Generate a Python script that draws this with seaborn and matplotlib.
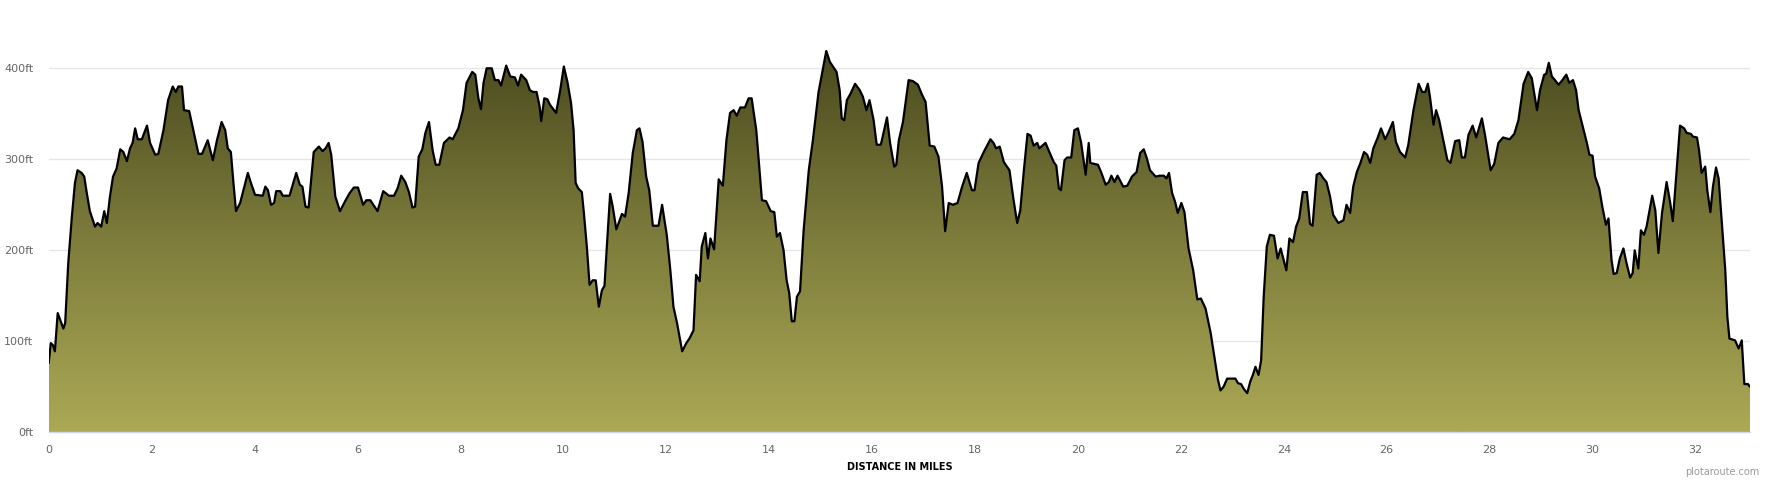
import numpy as np
import pandas as pd
import matplotlib.pyplot as plt
import seaborn as sns
from matplotlib.colors import LinearSegmentedColormap
from matplotlib.patches import Polygon

# 거리(마일)
miles = [
    0.00, 0.04, 0.08, 0.12, 0.175, 0.22, 0.285, 0.32, 0.38, 0.45, 0.51, 0.56, 0.64, 0.69, 0.74, 0.80,
    0.90, 0.95, 1.02, 1.08, 1.13, 1.19, 1.25, 1.32, 1.39, 1.45, 1.52, 1.58, 1.63, 1.68, 1.73, 1.81,
    1.91, 1.97, 2.07, 2.13, 2.23, 2.32, 2.41, 2.47, 2.52, 2.59, 2.63, 2.73, 2.81, 2.91, 2.98, 3.09,
    3.19, 3.27, 3.36, 3.43, 3.48, 3.54, 3.59, 3.64, 3.72, 3.87, 3.93, 4.01, 4.16, 4.21, 4.26, 4.32,
    4.38, 4.42, 4.50, 4.55, 4.68, 4.81, 4.88, 4.93, 4.99, 5.05, 5.15, 5.25, 5.32, 5.38, 5.44, 5.49,
    5.57, 5.66, 5.77, 5.85, 5.93, 6.01, 6.11, 6.17, 6.25, 6.39, 6.50, 6.61, 6.71, 6.78, 6.85, 6.93,
    7.00, 7.07, 7.12, 7.19, 7.26, 7.32, 7.39, 7.46, 7.52, 7.59, 7.68, 7.79,
    7.85, 7.96, 8.05, 8.12, 8.23, 8.29, 8.35, 8.40, 8.45, 8.51, 8.61, 8.67, 8.74, 8.79, 8.89, 8.97,
    9.06, 9.12, 9.18, 9.28, 9.35, 9.41, 9.48, 9.54, 9.57, 9.63, 9.69, 9.74, 9.86, 9.94, 10.01, 10.08,
    10.15, 10.20, 10.24, 10.29, 10.36, 10.40, 10.46, 10.51, 10.57, 10.63, 10.69, 10.75, 10.80, 10.85,
    10.91, 10.96, 11.03, 11.14, 11.20, 11.27, 11.35, 11.43, 11.48, 11.54, 11.61, 11.67, 11.74, 11.85,
    11.92, 12.01, 12.08, 12.14, 12.21, 12.31, 12.39, 12.45, 12.53, 12.58, 12.65, 12.69, 12.76, 12.81,
    12.86, 12.93, 13.02, 13.10, 13.17, 13.24, 13.31, 13.37, 13.44, 13.53, 13.60, 13.66, 13.75, 13.86,
    13.94, 14.03, 14.10, 14.15, 14.21, 14.28, 14.34, 14.39, 14.44, 14.49, 14.54, 14.60, 14.67, 14.77,
    14.85, 14.96, 15.04, 15.11, 15.18, 15.31, 15.37, 15.41, 15.46, 15.51, 15.58, 15.67, 15.76, 15.82,
    15.89, 15.95, 16.03, 16.09, 16.17,
    16.29, 16.35, 16.43, 16.47, 16.52, 16.60, 16.71, 16.79, 16.89, 16.97, 17.04, 17.12, 17.21, 17.29,
    17.36, 17.42, 17.49, 17.57, 17.66, 17.75, 17.84, 17.94, 17.99, 18.07, 18.17, 18.30, 18.36, 18.41,
    18.48, 18.56, 18.67, 18.75, 18.82, 18.88, 18.95, 19.02, 19.08, 19.14, 19.21, 19.25, 19.37, 19.43,
    19.53, 19.58, 19.63, 19.67, 19.74, 19.79, 19.87, 19.93, 20.00, 20.06, 20.15, 20.21, 20.24, 20.39,
    20.45, 20.54, 20.60, 20.65, 20.71, 20.77, 20.88, 20.96, 21.05, 21.14, 21.21, 21.28, 21.34, 21.40,
    21.51, 21.59, 21.67, 21.72, 21.77, 21.83, 21.89, 21.94, 22.01, 22.07, 22.15, 22.24, 22.32, 22.39,
    22.48, 22.58, 22.64, 22.72, 22.77, 22.83, 22.90, 23.06, 23.11, 23.17, 23.22, 23.29, 23.35, 23.40,
    23.45, 23.51, 23.56, 23.61, 23.67, 23.73, 23.81, 23.88, 23.94, 24.05, 24.11, 24.18, 24.24, 24.30,
    24.37, 24.45, 24.51, 24.56, 24.64,
    24.70, 24.77, 24.83, 24.90, 24.96, 25.06, 25.16, 25.22, 25.29, 25.35, 25.42, 25.49, 25.56, 25.62,
    25.68, 25.74, 25.82, 25.89, 25.97, 26.03, 26.12, 26.18, 26.26, 26.36, 26.42, 26.52, 26.62, 26.69,
    26.75, 26.80, 26.84, 26.91, 26.96, 27.02, 27.11, 27.18, 27.24, 27.33, 27.41, 27.46, 27.52, 27.59,
    27.67, 27.74, 27.85, 27.91, 28.02, 28.09, 28.17, 28.26, 28.32, 28.39, 28.48, 28.56, 28.66, 28.75,
    28.82, 28.92, 28.98, 29.06, 29.10, 29.15, 29.21, 29.27, 29.34, 29.40, 29.49, 29.55, 29.62, 29.68,
    29.73, 29.82, 29.89, 29.94, 30.00, 30.05, 30.13, 30.19, 30.26, 30.31, 30.37, 30.41, 30.47, 30.53,
    30.60, 30.66, 30.73, 30.78, 30.82, 30.89, 30.94, 31.00, 31.05, 31.16, 31.22, 31.28, 31.35, 31.44,
    31.51, 31.56, 31.63, 31.70, 31.78, 31.83, 31.91, 31.95, 32.03, 32.07, 32.12, 32.19, 32.23, 32.29,
    32.34, 32.40, 32.45, 32.51, 32.58, 32.62, 32.66, 32.77, 32.84, 32.90, 32.95, 33.02, 33.06,
]

# 고도(ft)
elev_ft = [
    76, 98, 96, 89, 131, 124, 114, 120, 186, 237, 274, 288, 285, 281, 263, 243,
    226, 230, 226, 243, 230, 259, 281, 290, 311, 308, 298, 312, 318, 334, 322, 322,
    337, 318, 305, 306, 332, 365, 380, 374, 380, 380, 354, 353, 332, 306, 306, 321,
    299, 321, 341, 332, 312, 308, 274, 243, 252, 285, 274, 261, 260, 270, 266, 250,
    252, 265, 265, 260, 260, 285, 272, 270, 248, 247, 308, 314, 309, 312, 318, 305,
    259, 243, 255, 263, 269, 269, 250, 255, 255, 243, 265, 260, 260, 268, 282, 275,
    264, 247, 248, 303, 311, 329, 341, 310, 294, 294, 318, 324,
    322, 334, 354, 384, 396, 393, 367, 355, 384, 400, 400, 387, 387, 381, 403, 391,
    390, 381, 393, 387, 376, 374, 374, 358, 342, 367, 366, 360, 351, 376, 402, 385,
    362, 332, 274, 268, 264, 241, 202, 162, 167, 167, 138, 156, 161, 208,
    262, 248, 223, 240, 237, 263, 307, 332, 334, 319, 281, 266, 227, 227,
    250, 217, 178, 138, 120, 89, 98, 103, 112, 173, 166, 204, 219, 191,
    213, 201, 278, 271, 321, 351, 354, 348, 357, 357, 367, 367, 332, 255,
    254, 243, 242, 215, 219, 200, 167, 153, 122, 122, 149, 155, 222, 288,
    321, 374, 398, 419, 407, 396, 376, 345, 343, 365, 372, 383, 376, 369,
    354, 365, 343, 316, 316,
    346, 318, 292, 294, 321, 341, 387, 386, 382, 371, 363, 315, 314, 303,
    270, 221, 252, 250, 252, 270, 285, 266, 266, 296, 308, 322, 318, 312,
    314, 297, 288, 255, 230, 244, 288, 328, 326, 315, 318, 312, 318, 310,
    297, 293, 268, 266, 299, 302, 302, 332, 334, 319, 283, 318, 296, 294,
    286, 272, 275, 282, 275, 282, 270, 271, 281, 286, 307, 311, 301, 288,
    281, 282, 282, 279, 285, 263, 253, 241, 252, 242, 202, 178, 146, 147,
    136, 109, 87, 58, 46, 50, 59, 59, 54, 53, 48, 43, 56, 63,
    72, 63, 79, 149, 204, 217, 216, 191, 202, 178, 213, 209, 226, 235,
    264, 264, 229, 227, 283,
    285, 279, 275, 259, 239, 230, 233, 250, 241, 270, 286, 296, 308, 305,
    296, 312, 323, 334, 322, 329, 341, 319, 308, 302, 316, 354, 383, 374,
    374, 383, 369, 338, 354, 343, 318, 299, 296, 320, 321, 302, 302, 327,
    337, 324, 345, 327, 288, 295, 318, 324, 323, 322, 328, 343, 383, 396,
    389, 354, 376, 393, 394, 406, 391, 387, 382, 386, 393, 384, 387, 376,
    354, 334, 318, 305, 304, 281, 268, 248, 228, 235, 189, 174, 175, 191,
    202, 186, 170, 175, 200, 180, 222, 217, 226, 260, 244, 197, 241, 275,
    252, 232, 285, 337, 334, 329, 328, 325, 324, 310, 285, 292, 266, 242,
    270, 291, 279, 233, 178, 127, 103, 101, 92, 101, 53, 53, 50,
]

x_ticks = list(range(0, 34, 2))
y_ticks = [0, 100, 200, 300, 400]
y_labels = ['0ft', '100ft', '200ft', '300ft', '400ft']

df = pd.DataFrame({'miles': miles, 'elev_ft': elev_ft})

sns.set_style('white')
plt.rcParams['font.family'] = ['DejaVu Sans']

W, H = 1770, 480
fig = plt.figure(figsize=(W / 100, H / 100), dpi=100)
x0, x1, y0 = 48.7, 1750, 432.3
ax = fig.add_axes([x0 / W, (H - y0) / H, (x1 - x0) / W, y0 / H])

x_max = df['miles'].max()
y_max = df['elev_ft'].max()

# 그라데이션 채우기 (위: 진한 올리브, 아래: 밝은 올리브)
cmap = LinearSegmentedColormap.from_list('olive', ['#aba955', '#7e7d3c', '#4a491e'])
grad = np.linspace(0, 1, 256).reshape(-1, 1)
im = ax.imshow(grad, extent=[0, x_max, 0, y_max], origin='lower', aspect='auto',
               cmap=cmap, zorder=2)
verts = [(df['miles'].iloc[0], 0)] + list(zip(df['miles'], df['elev_ft'])) + [(x_max, 0)]
poly = Polygon(verts, closed=True, facecolor='none', edgecolor='none')
ax.add_patch(poly)
im.set_clip_path(poly)

sns.lineplot(data=df, x='miles', y='elev_ft', color='black', linewidth=1.6, ax=ax, zorder=3,
             solid_joinstyle='round', solid_capstyle='round')

ax.set_xlim(0, x_max)
ax.set_ylim(0, y0 / 0.91)
ax.set_xticks(x_ticks)
ax.set_yticks(y_ticks)
ax.set_yticklabels(y_labels)
ax.grid(axis='y', color='#e6e6e6', linewidth=1)
ax.set_axisbelow(True)
ax.set_xlabel('')
ax.set_ylabel('')

for s in ['top', 'right', 'left']:
    ax.spines[s].set_visible(False)
ax.spines['bottom'].set_color('#ccd6eb')
ax.spines['bottom'].set_linewidth(1)
ax.spines['bottom'].set_zorder(4)

ax.tick_params(axis='x', colors='#ccd6eb', length=7, width=1, direction='out', pad=2,
               labelcolor='#666666', labelsize=8)
ax.tick_params(axis='y', length=0, pad=11, labelcolor='#666666', labelsize=8)

fig.text(x0 / W + (x1 - x0) / W / 2, 1 - 467 / H, 'DISTANCE IN MILES', ha='center', va='center',
         fontsize=7, fontweight='bold', color='black')
fig.text(1759 / W, 1 - 472 / H, 'plotaroute.com', ha='right', va='center',
         fontsize=7, color='#999999')

fig.savefig('out.png', dpi=100)
